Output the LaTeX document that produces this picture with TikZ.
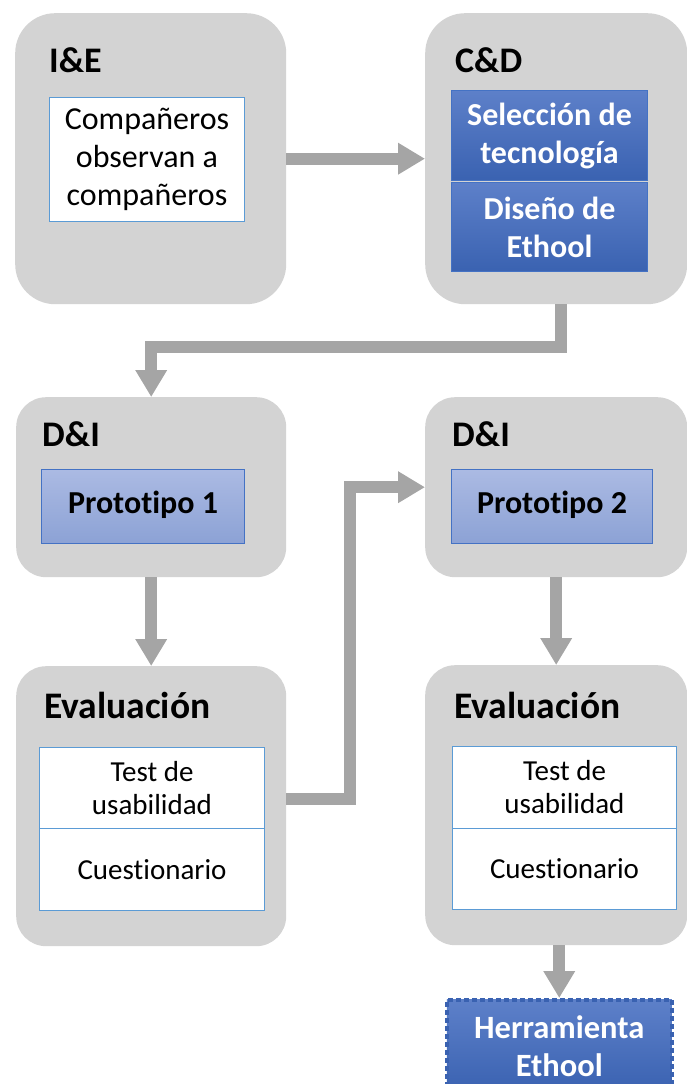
\documentclass[tikz,border=0pt]{standalone}
\usepackage{fontspec}
\setmainfont{Carlito}[Ligatures=NoCommon]
\usetikzlibrary{arrows.meta}
\definecolor{panelgray}{HTML}{D3D3D3}
\definecolor{flowgray}{HTML}{A5A5A5}
\definecolor{thinblue}{HTML}{5B9BD5}
\definecolor{deeptop}{HTML}{5D80C9}
\definecolor{deepbot}{HTML}{3A62B1}
\definecolor{paletop}{HTML}{ABBAE3}
\definecolor{palebot}{HTML}{8CA2D5}
\definecolor{accent}{HTML}{4472C4}
\tikzset{
  panel/.style={fill=panelgray, draw=none, rounded corners=#1, anchor=north west, inner sep=0},
  panel/.default=30pt,
  heading/.style={font=\bfseries\fontsize{36}{40}\selectfont, inner sep=0, anchor=base west},
  whitebox/.style={fill=white, draw=thinblue, line width=1pt, anchor=north west, inner sep=0,
    align=center, font=\fontsize{29}{33}\selectfont},
  deepbox/.style={top color=deeptop, bottom color=deepbot, draw=accent, line width=1pt,
    anchor=north west, inner sep=0, align=center, text=white,
    font=\bfseries\fontsize{32}{38}\selectfont},
  palebox/.style={top color=paletop, bottom color=palebot, draw=accent, line width=1pt,
    anchor=north west, inner sep=0, align=center, font=\bfseries\fontsize{32}{36}\selectfont},
  flow/.style={draw=flowgray, line width=12pt, -{Triangle[width=30pt,length=27pt]}, flowgray}
}
\begin{document}
\begin{tikzpicture}[x=1pt,y=-1pt]
\useasboundingbox (0,0) rectangle (687,1084);
\clip (0,0) rectangle (687,1084);

% I&E stage
\node[panel=40pt, minimum width=271pt, minimum height=291pt] (ie) at (15,13) {};
\node[heading] (ieT) at (49,72) {I\&E};
\node[whitebox, minimum width=195pt, minimum height=124pt, font=\fontsize{32}{38}\selectfont] (ieB) at (49,97)
  {Compañeros\\observan a\\compañeros};

% C&D stage
\node[panel=40pt, minimum width=262pt, minimum height=291pt] (cd) at (425,13) {};
\node[heading] (cdT) at (455,72) {C\&D};
\node[deepbox, minimum width=196pt, minimum height=90pt] (sel) at (451,90) {Selección de\\tecnología};
\node[deepbox, minimum width=196pt, minimum height=89pt] (dis) at (451,182) {Diseño de\\Ethool};

% first D&I stage
\node[panel, minimum width=270pt, minimum height=180pt] (di1) at (16,397) {};
\node[heading] (di1T) at (42,446) {D\&I};
\node[palebox, minimum width=203pt, minimum height=74pt] (p1) at (41,469) {\raisebox{8pt}{Prototipo 1}};

% second D&I stage
\node[panel, minimum width=262pt, minimum height=180pt] (di2) at (425,397) {};
\node[heading] (di2T) at (452,446) {D\&I};
\node[palebox, minimum width=201pt, minimum height=74pt] (p2) at (451,469) {\raisebox{8pt}{Prototipo 2}};

% first evaluation
\node[panel, minimum width=270pt, minimum height=280pt] (ev1) at (16,666) {};
\node[heading, font=\bfseries\fontsize{37.5}{40}\selectfont] (ev1T) at (44,718) {Evaluación};
\node[whitebox, minimum width=225pt, minimum height=81pt] (t1) at (39,747) {Test de\\usabilidad};
\node[whitebox, minimum width=225pt, minimum height=82pt] (q1) at (39,828) {Cuestionario};

% second evaluation
\node[panel, minimum width=262pt, minimum height=280pt] (ev2) at (425,665) {};
\node[heading, font=\bfseries\fontsize{37.5}{40}\selectfont] (ev2T) at (454,718) {Evaluación};
\node[whitebox, minimum width=224pt, minimum height=82pt] (t2) at (452,746) {Test de\\usabilidad};
\node[whitebox, minimum width=224pt, minimum height=81pt] (q2) at (452,828) {Cuestionario};

% final tool
\node[deepbox, draw=deepbot, line width=3.5pt, dash pattern=on 5pt off 3pt,
  minimum width=225pt, minimum height=92pt, font=\bfseries\fontsize{32.5}{38}\selectfont] (tool) at (445,998)
  {Herramienta\\Ethool};

% connectors
\draw[flow] (ie.east) -- (cd.west);
\draw[flow] ([xshift=5pt]cd.south) -- ++(0,43) -| (di1.north);
\draw[flow] (di1.south) -- (ev1.north);
\draw[flow] (di2.south) -- (ev2.north);
\draw[flow] ([yshift=7pt]ev1.east) -- ++(64,0) |- (di2.west);
\draw[flow] (ev2.south -| tool.north) -- (tool.north);
\end{tikzpicture}
\end{document}
